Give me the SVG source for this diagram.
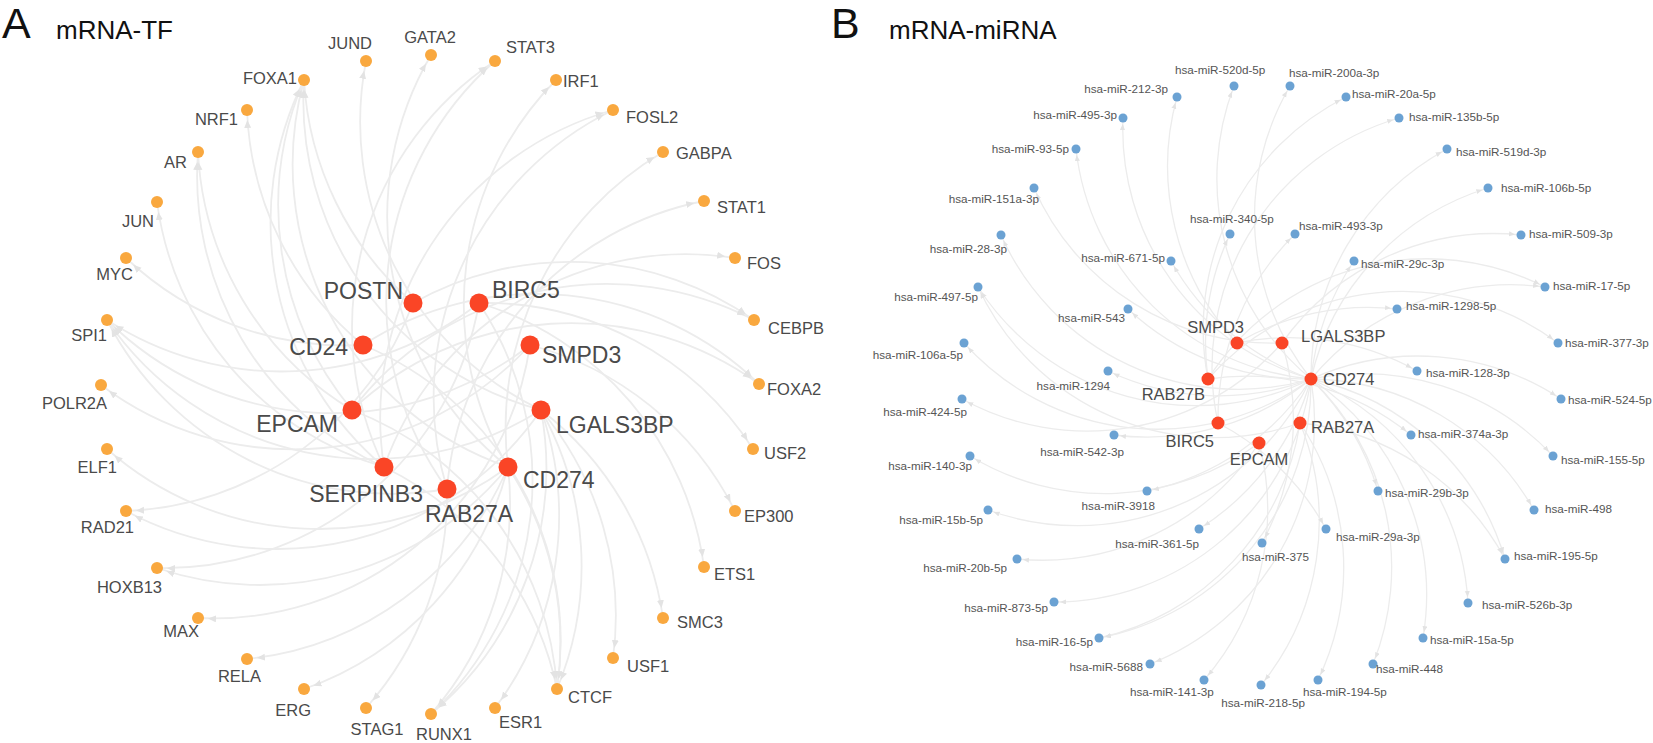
<svg xmlns="http://www.w3.org/2000/svg" width="1653" height="743" viewBox="0 0 1653 743">
<style>
text{font-family:"Liberation Sans",Arial,sans-serif}
.ttl{font-size:43px;fill:#111}
.sub{font-size:26px;fill:#111}
.tf{fill:#F9A83F}
.mr{fill:#FA4526}
.mi{fill:#6BA2D3}
.tl{font-size:16.5px;fill:#4a4a4a}
.ml{font-size:23px;fill:#4a4a4a}
.mb{font-size:16.5px;fill:#4a4a4a}
.il{font-size:11.7px;fill:#555}
.ea{fill:none;stroke:#ececec;stroke-width:1.8;marker-end:url(#ah)}
.eb{fill:none;stroke:#ececec;stroke-width:1.3;marker-end:url(#ahb)}
</style>
<defs>
<marker id="ah" markerUnits="userSpaceOnUse" markerWidth="30" markerHeight="10" refX="18" refY="3.5" orient="auto"><path d="M0,0 L8,3.5 L0,7 Z" fill="#e3e3e3"/></marker>
<marker id="ahb" markerUnits="userSpaceOnUse" markerWidth="20" markerHeight="8" refX="12" refY="2.5" orient="auto"><path d="M0,0 L6,2.5 L0,5 Z" fill="#e3e3e3"/></marker>
</defs>
<rect width="1653" height="743" fill="#fff"/>
<g id="titles">
<text class="ttl" x="2" y="38">A</text>
<text class="sub" x="56" y="39">mRNA-TF</text>
<text class="ttl" x="831" y="38">B</text>
<text class="sub" x="889" y="39">mRNA-miRNA</text>
</g>
<g id="connectors-A">
<path class="ea" d="M541 410 A320 320 0 0 1 366 61"/>
<path class="ea" d="M508 467 A320 320 0 0 1 431 55"/>
<path class="ea" d="M447 489 A320 320 0 0 1 495 61"/>
<path class="ea" d="M384 467 A320 320 0 0 1 495 61"/>
<path class="ea" d="M508 467 A320 320 0 0 1 556 80"/>
<path class="ea" d="M384 467 A320 320 0 0 1 613 110"/>
<path class="ea" d="M447 489 A320 320 0 0 1 613 110"/>
<path class="ea" d="M508 467 A320 320 0 0 1 663 152"/>
<path class="ea" d="M447 489 A320 320 0 0 1 704 201"/>
<path class="ea" d="M384 467 A320 320 0 0 1 735 258"/>
<path class="ea" d="M352 410 A320 320 0 0 1 754 320"/>
<path class="ea" d="M413 303 A320 320 0 0 1 754 320"/>
<path class="ea" d="M363 345 A320 320 0 0 1 759 384"/>
<path class="ea" d="M352 410 A320 320 0 0 1 759 384"/>
<path class="ea" d="M479 303 A320 320 0 0 1 753 449"/>
<path class="ea" d="M530 345 A320 320 0 0 1 735 511"/>
<path class="ea" d="M479 303 A320 320 0 0 1 704 567"/>
<path class="ea" d="M541 410 A320 320 0 0 1 663 618"/>
<path class="ea" d="M541 410 A320 320 0 0 1 613 658"/>
<path class="ea" d="M352 410 A320 320 0 0 1 557 689"/>
<path class="ea" d="M363 345 A320 320 0 0 1 557 689"/>
<path class="ea" d="M384 467 A320 320 0 0 1 557 689"/>
<path class="ea" d="M508 467 A320 320 0 0 1 557 689"/>
<path class="ea" d="M541 410 A320 320 0 0 1 557 689"/>
<path class="ea" d="M541 410 A320 320 0 0 1 495 708"/>
<path class="ea" d="M508 467 A320 320 0 0 1 431 714"/>
<path class="ea" d="M541 410 A320 320 0 0 1 431 714"/>
<path class="ea" d="M479 303 A320 320 0 0 1 431 714"/>
<path class="ea" d="M447 489 A320 320 0 0 1 366 708"/>
<path class="ea" d="M508 467 A320 320 0 0 1 304 689"/>
<path class="ea" d="M508 467 A320 320 0 0 1 247 659"/>
<path class="ea" d="M530 345 A320 320 0 0 1 198 618"/>
<path class="ea" d="M479 303 A320 320 0 0 1 157 568"/>
<path class="ea" d="M508 467 A320 320 0 0 1 157 568"/>
<path class="ea" d="M541 410 A320 320 0 0 1 126 511"/>
<path class="ea" d="M413 303 A320 320 0 0 1 126 511"/>
<path class="ea" d="M508 467 A320 320 0 0 1 107 449"/>
<path class="ea" d="M530 345 A320 320 0 0 1 101 385"/>
<path class="ea" d="M530 345 A320 320 0 0 1 107 320"/>
<path class="ea" d="M479 303 A320 320 0 0 1 107 320"/>
<path class="ea" d="M541 410 A320 320 0 0 1 107 320"/>
<path class="ea" d="M447 489 A320 320 0 0 1 107 320"/>
<path class="ea" d="M363 345 A320 320 0 0 1 126 258"/>
<path class="ea" d="M384 467 A320 320 0 0 1 157 202"/>
<path class="ea" d="M352 410 A320 320 0 0 1 198 152"/>
<path class="ea" d="M384 467 A320 320 0 0 1 198 152"/>
<path class="ea" d="M363 345 A320 320 0 0 1 247 110"/>
<path class="ea" d="M352 410 A320 320 0 0 1 304 80"/>
<path class="ea" d="M384 467 A320 320 0 0 1 304 80"/>
<path class="ea" d="M541 410 A320 320 0 0 1 304 80"/>
<path class="ea" d="M508 467 A320 320 0 0 1 304 80"/>
<path class="ea" d="M413 303 A320 320 0 0 1 304 80"/>
</g>
<g id="connectors-B">
<path class="eb" d="M1237 343 A260 260 0 0 1 1177 97"/>
<path class="eb" d="M1311 379 A260 260 0 0 1 1234 86"/>
<path class="eb" d="M1311 379 A260 260 0 0 1 1290 86"/>
<path class="eb" d="M1208 379 A260 260 0 0 1 1346 97"/>
<path class="eb" d="M1218 423 A260 260 0 0 1 1399 118"/>
<path class="eb" d="M1311 379 A260 260 0 0 1 1447 149"/>
<path class="eb" d="M1311 379 A260 260 0 0 1 1488 188"/>
<path class="eb" d="M1282 343 A260 260 0 0 1 1521 235"/>
<path class="eb" d="M1311 379 A260 260 0 0 1 1545 287"/>
<path class="eb" d="M1208 379 A260 260 0 0 1 1545 287"/>
<path class="eb" d="M1208 379 A260 260 0 0 1 1558 343"/>
<path class="eb" d="M1311 379 A260 260 0 0 1 1561 399"/>
<path class="eb" d="M1311 379 A260 260 0 0 1 1553 456"/>
<path class="eb" d="M1311 379 A260 260 0 0 1 1534 510"/>
<path class="eb" d="M1311 379 A260 260 0 0 1 1505 559"/>
<path class="eb" d="M1300 423 A260 260 0 0 1 1505 559"/>
<path class="eb" d="M1311 379 A260 260 0 0 1 1468 603"/>
<path class="eb" d="M1311 379 A260 260 0 0 1 1423 638"/>
<path class="eb" d="M1311 379 A260 260 0 0 1 1373 664"/>
<path class="eb" d="M1300 423 A260 260 0 0 1 1318 680"/>
<path class="eb" d="M1300 423 A260 260 0 0 1 1261 685"/>
<path class="eb" d="M1259 443 A260 260 0 0 1 1204 680"/>
<path class="eb" d="M1311 379 A260 260 0 0 1 1150 664"/>
<path class="eb" d="M1311 379 A260 260 0 0 1 1099 638"/>
<path class="eb" d="M1300 423 A260 260 0 0 1 1099 638"/>
<path class="eb" d="M1311 379 A260 260 0 0 1 1054 602"/>
<path class="eb" d="M1259 443 A260 260 0 0 1 1017 559"/>
<path class="eb" d="M1311 379 A260 260 0 0 1 988 510"/>
<path class="eb" d="M1259 443 A260 260 0 0 1 970 456"/>
<path class="eb" d="M1282 343 A260 260 0 0 1 962 399"/>
<path class="eb" d="M1311 379 A260 260 0 0 1 964 343"/>
<path class="eb" d="M1311 379 A260 260 0 0 1 978 287"/>
<path class="eb" d="M1300 423 A260 260 0 0 1 978 287"/>
<path class="eb" d="M1311 379 A260 260 0 0 1 1001 235"/>
<path class="eb" d="M1282 343 A260 260 0 0 1 1034 188"/>
<path class="eb" d="M1311 379 A260 260 0 0 1 1076 149"/>
<path class="eb" d="M1311 379 A260 260 0 0 1 1123 118"/>
<path class="eb" d="M1311 379 A260 260 0 0 1 1171 261"/>
<path class="eb" d="M1208 379 A260 260 0 0 1 1230 234"/>
<path class="eb" d="M1218 423 A260 260 0 0 1 1295 234"/>
<path class="eb" d="M1311 379 A260 260 0 0 1 1354 261"/>
<path class="eb" d="M1237 343 A260 260 0 0 1 1397 309"/>
<path class="eb" d="M1237 343 A260 260 0 0 1 1417 371"/>
<path class="eb" d="M1208 379 A260 260 0 0 1 1411 435"/>
<path class="eb" d="M1311 379 A260 260 0 0 1 1378 491"/>
<path class="eb" d="M1218 423 A260 260 0 0 1 1326 529"/>
<path class="eb" d="M1282 343 A260 260 0 0 1 1262 543"/>
<path class="eb" d="M1311 379 A260 260 0 0 1 1199 529"/>
<path class="eb" d="M1311 379 A260 260 0 0 1 1147 491"/>
<path class="eb" d="M1311 379 A260 260 0 0 1 1114 435"/>
<path class="eb" d="M1311 379 A260 260 0 0 1 1108 371"/>
<path class="eb" d="M1311 379 A260 260 0 0 1 1128 309"/>
</g>
<g id="nodes-A-tf">
<g id="JUND"><circle class="tf" cx="366" cy="61" r="6"/><text class="tl" x="350" y="49" text-anchor="middle">JUND</text></g>
<g id="GATA2"><circle class="tf" cx="431" cy="55" r="6"/><text class="tl" x="430" y="43" text-anchor="middle">GATA2</text></g>
<g id="STAT3"><circle class="tf" cx="495" cy="61" r="6"/><text class="tl" x="506" y="53">STAT3</text></g>
<g id="IRF1"><circle class="tf" cx="556" cy="80" r="6"/><text class="tl" x="563" y="87">IRF1</text></g>
<g id="FOSL2"><circle class="tf" cx="613" cy="110" r="6"/><text class="tl" x="626" y="123">FOSL2</text></g>
<g id="GABPA"><circle class="tf" cx="663" cy="152" r="6"/><text class="tl" x="676" y="159">GABPA</text></g>
<g id="STAT1"><circle class="tf" cx="704" cy="201" r="6"/><text class="tl" x="717" y="213">STAT1</text></g>
<g id="FOS"><circle class="tf" cx="735" cy="258" r="6"/><text class="tl" x="747" y="269">FOS</text></g>
<g id="CEBPB"><circle class="tf" cx="754" cy="320" r="6"/><text class="tl" x="768" y="334">CEBPB</text></g>
<g id="FOXA2"><circle class="tf" cx="759" cy="384" r="6"/><text class="tl" x="767" y="395">FOXA2</text></g>
<g id="USF2"><circle class="tf" cx="753" cy="449" r="6"/><text class="tl" x="764" y="459">USF2</text></g>
<g id="EP300"><circle class="tf" cx="735" cy="511" r="6"/><text class="tl" x="744" y="522">EP300</text></g>
<g id="ETS1"><circle class="tf" cx="704" cy="567" r="6"/><text class="tl" x="714" y="580">ETS1</text></g>
<g id="SMC3"><circle class="tf" cx="663" cy="618" r="6"/><text class="tl" x="677" y="628">SMC3</text></g>
<g id="USF1"><circle class="tf" cx="613" cy="658" r="6"/><text class="tl" x="627" y="672">USF1</text></g>
<g id="CTCF"><circle class="tf" cx="557" cy="689" r="6"/><text class="tl" x="568" y="703">CTCF</text></g>
<g id="ESR1"><circle class="tf" cx="495" cy="708" r="6"/><text class="tl" x="499" y="728">ESR1</text></g>
<g id="RUNX1"><circle class="tf" cx="431" cy="714" r="6"/><text class="tl" x="444" y="740" text-anchor="middle">RUNX1</text></g>
<g id="STAG1"><circle class="tf" cx="366" cy="708" r="6"/><text class="tl" x="377" y="735" text-anchor="middle">STAG1</text></g>
<g id="ERG"><circle class="tf" cx="304" cy="689" r="6"/><text class="tl" x="311" y="716" text-anchor="end">ERG</text></g>
<g id="RELA"><circle class="tf" cx="247" cy="659" r="6"/><text class="tl" x="261" y="682" text-anchor="end">RELA</text></g>
<g id="MAX"><circle class="tf" cx="198" cy="618" r="6"/><text class="tl" x="199" y="637" text-anchor="end">MAX</text></g>
<g id="HOXB13"><circle class="tf" cx="157" cy="568" r="6"/><text class="tl" x="162" y="593" text-anchor="end">HOXB13</text></g>
<g id="RAD21"><circle class="tf" cx="126" cy="511" r="6"/><text class="tl" x="134" y="533" text-anchor="end">RAD21</text></g>
<g id="ELF1"><circle class="tf" cx="107" cy="449" r="6"/><text class="tl" x="117" y="473" text-anchor="end">ELF1</text></g>
<g id="POLR2A"><circle class="tf" cx="101" cy="385" r="6"/><text class="tl" x="107" y="409" text-anchor="end">POLR2A</text></g>
<g id="SPI1"><circle class="tf" cx="107" cy="320" r="6"/><text class="tl" x="107" y="341" text-anchor="end">SPI1</text></g>
<g id="MYC"><circle class="tf" cx="126" cy="258" r="6"/><text class="tl" x="133" y="280" text-anchor="end">MYC</text></g>
<g id="JUN"><circle class="tf" cx="157" cy="202" r="6"/><text class="tl" x="154" y="227" text-anchor="end">JUN</text></g>
<g id="AR"><circle class="tf" cx="198" cy="152" r="6"/><text class="tl" x="187" y="168" text-anchor="end">AR</text></g>
<g id="NRF1"><circle class="tf" cx="247" cy="110" r="6"/><text class="tl" x="238" y="125" text-anchor="end">NRF1</text></g>
<g id="FOXA1"><circle class="tf" cx="304" cy="80" r="6"/><text class="tl" x="297" y="84" text-anchor="end">FOXA1</text></g>
</g>
<g id="nodes-A-mrna">
<g id="A-POSTN"><circle class="mr" cx="413" cy="303" r="9.5"/><text class="ml" x="403" y="299" text-anchor="end">POSTN</text></g>
<g id="A-BIRC5"><circle class="mr" cx="479" cy="303" r="9.5"/><text class="ml" x="492" y="298">BIRC5</text></g>
<g id="A-CD24"><circle class="mr" cx="363" cy="345" r="9.5"/><text class="ml" x="348" y="355" text-anchor="end">CD24</text></g>
<g id="A-SMPD3"><circle class="mr" cx="530" cy="345" r="9.5"/><text class="ml" x="542" y="363">SMPD3</text></g>
<g id="A-EPCAM"><circle class="mr" cx="352" cy="410" r="9.5"/><text class="ml" x="338" y="432" text-anchor="end">EPCAM</text></g>
<g id="A-LGALS3BP"><circle class="mr" cx="541" cy="410" r="9.5"/><text class="ml" x="556" y="433">LGALS3BP</text></g>
<g id="A-SERPINB3"><circle class="mr" cx="384" cy="467" r="9.5"/><text class="ml" x="423" y="502" text-anchor="end">SERPINB3</text></g>
<g id="A-CD274"><circle class="mr" cx="508" cy="467" r="9.5"/><text class="ml" x="523" y="488">CD274</text></g>
<g id="A-RAB27A"><circle class="mr" cx="447" cy="489" r="9.5"/><text class="ml" x="425" y="522">RAB27A</text></g>
</g>
<g id="nodes-B-mirna">
<g id="miR-212-3p"><circle class="mi" cx="1177" cy="97" r="4.5"/><text class="il" x="1168" y="93" text-anchor="end">hsa-miR-212-3p</text></g>
<g id="miR-520d-5p"><circle class="mi" cx="1234" cy="86" r="4.5"/><text class="il" x="1175" y="74">hsa-miR-520d-5p</text></g>
<g id="miR-200a-3p"><circle class="mi" cx="1290" cy="86" r="4.5"/><text class="il" x="1289" y="77">hsa-miR-200a-3p</text></g>
<g id="miR-20a-5p"><circle class="mi" cx="1346" cy="97" r="4.5"/><text class="il" x="1352" y="98">hsa-miR-20a-5p</text></g>
<g id="miR-135b-5p"><circle class="mi" cx="1399" cy="118" r="4.5"/><text class="il" x="1409" y="121">hsa-miR-135b-5p</text></g>
<g id="miR-519d-3p"><circle class="mi" cx="1447" cy="149" r="4.5"/><text class="il" x="1456" y="156">hsa-miR-519d-3p</text></g>
<g id="miR-106b-5p"><circle class="mi" cx="1488" cy="188" r="4.5"/><text class="il" x="1501" y="192">hsa-miR-106b-5p</text></g>
<g id="miR-509-3p"><circle class="mi" cx="1521" cy="235" r="4.5"/><text class="il" x="1529" y="238">hsa-miR-509-3p</text></g>
<g id="miR-17-5p"><circle class="mi" cx="1545" cy="287" r="4.5"/><text class="il" x="1553" y="290">hsa-miR-17-5p</text></g>
<g id="miR-377-3p"><circle class="mi" cx="1558" cy="343" r="4.5"/><text class="il" x="1565" y="347">hsa-miR-377-3p</text></g>
<g id="miR-524-5p"><circle class="mi" cx="1561" cy="399" r="4.5"/><text class="il" x="1568" y="404">hsa-miR-524-5p</text></g>
<g id="miR-155-5p"><circle class="mi" cx="1553" cy="456" r="4.5"/><text class="il" x="1561" y="464">hsa-miR-155-5p</text></g>
<g id="miR-498"><circle class="mi" cx="1534" cy="510" r="4.5"/><text class="il" x="1545" y="513">hsa-miR-498</text></g>
<g id="miR-195-5p"><circle class="mi" cx="1505" cy="559" r="4.5"/><text class="il" x="1514" y="560">hsa-miR-195-5p</text></g>
<g id="miR-526b-3p"><circle class="mi" cx="1468" cy="603" r="4.5"/><text class="il" x="1482" y="609">hsa-miR-526b-3p</text></g>
<g id="miR-15a-5p"><circle class="mi" cx="1423" cy="638" r="4.5"/><text class="il" x="1430" y="644">hsa-miR-15a-5p</text></g>
<g id="miR-448"><circle class="mi" cx="1373" cy="664" r="4.5"/><text class="il" x="1376" y="673">hsa-miR-448</text></g>
<g id="miR-194-5p"><circle class="mi" cx="1318" cy="680" r="4.5"/><text class="il" x="1303" y="696">hsa-miR-194-5p</text></g>
<g id="miR-218-5p"><circle class="mi" cx="1261" cy="685" r="4.5"/><text class="il" x="1305" y="707" text-anchor="end">hsa-miR-218-5p</text></g>
<g id="miR-141-3p"><circle class="mi" cx="1204" cy="680" r="4.5"/><text class="il" x="1130" y="696">hsa-miR-141-3p</text></g>
<g id="miR-5688"><circle class="mi" cx="1150" cy="664" r="4.5"/><text class="il" x="1143" y="671" text-anchor="end">hsa-miR-5688</text></g>
<g id="miR-16-5p"><circle class="mi" cx="1099" cy="638" r="4.5"/><text class="il" x="1093" y="646" text-anchor="end">hsa-miR-16-5p</text></g>
<g id="miR-873-5p"><circle class="mi" cx="1054" cy="602" r="4.5"/><text class="il" x="1048" y="612" text-anchor="end">hsa-miR-873-5p</text></g>
<g id="miR-20b-5p"><circle class="mi" cx="1017" cy="559" r="4.5"/><text class="il" x="1007" y="572" text-anchor="end">hsa-miR-20b-5p</text></g>
<g id="miR-15b-5p"><circle class="mi" cx="988" cy="510" r="4.5"/><text class="il" x="983" y="524" text-anchor="end">hsa-miR-15b-5p</text></g>
<g id="miR-140-3p"><circle class="mi" cx="970" cy="456" r="4.5"/><text class="il" x="972" y="470" text-anchor="end">hsa-miR-140-3p</text></g>
<g id="miR-424-5p"><circle class="mi" cx="962" cy="399" r="4.5"/><text class="il" x="967" y="416" text-anchor="end">hsa-miR-424-5p</text></g>
<g id="miR-106a-5p"><circle class="mi" cx="964" cy="343" r="4.5"/><text class="il" x="963" y="359" text-anchor="end">hsa-miR-106a-5p</text></g>
<g id="miR-497-5p"><circle class="mi" cx="978" cy="287" r="4.5"/><text class="il" x="978" y="301" text-anchor="end">hsa-miR-497-5p</text></g>
<g id="miR-28-3p"><circle class="mi" cx="1001" cy="235" r="4.5"/><text class="il" x="1007" y="253" text-anchor="end">hsa-miR-28-3p</text></g>
<g id="miR-151a-3p"><circle class="mi" cx="1034" cy="188" r="4.5"/><text class="il" x="1039" y="203" text-anchor="end">hsa-miR-151a-3p</text></g>
<g id="miR-93-5p"><circle class="mi" cx="1076" cy="149" r="4.5"/><text class="il" x="1069" y="153" text-anchor="end">hsa-miR-93-5p</text></g>
<g id="miR-495-3p"><circle class="mi" cx="1123" cy="118" r="4.5"/><text class="il" x="1117" y="119" text-anchor="end">hsa-miR-495-3p</text></g>
<g id="miR-671-5p"><circle class="mi" cx="1171" cy="261" r="4.5"/><text class="il" x="1165" y="262" text-anchor="end">hsa-miR-671-5p</text></g>
<g id="miR-340-5p"><circle class="mi" cx="1230" cy="234" r="4.5"/><text class="il" x="1190" y="223">hsa-miR-340-5p</text></g>
<g id="miR-493-3p"><circle class="mi" cx="1295" cy="234" r="4.5"/><text class="il" x="1299" y="230">hsa-miR-493-3p</text></g>
<g id="miR-29c-3p"><circle class="mi" cx="1354" cy="261" r="4.5"/><text class="il" x="1361" y="268">hsa-miR-29c-3p</text></g>
<g id="miR-1298-5p"><circle class="mi" cx="1397" cy="309" r="4.5"/><text class="il" x="1406" y="310">hsa-miR-1298-5p</text></g>
<g id="miR-128-3p"><circle class="mi" cx="1417" cy="371" r="4.5"/><text class="il" x="1426" y="377">hsa-miR-128-3p</text></g>
<g id="miR-374a-3p"><circle class="mi" cx="1411" cy="435" r="4.5"/><text class="il" x="1418" y="438">hsa-miR-374a-3p</text></g>
<g id="miR-29b-3p"><circle class="mi" cx="1378" cy="491" r="4.5"/><text class="il" x="1385" y="497">hsa-miR-29b-3p</text></g>
<g id="miR-29a-3p"><circle class="mi" cx="1326" cy="529" r="4.5"/><text class="il" x="1336" y="541">hsa-miR-29a-3p</text></g>
<g id="miR-375"><circle class="mi" cx="1262" cy="543" r="4.5"/><text class="il" x="1242" y="561">hsa-miR-375</text></g>
<g id="miR-361-5p"><circle class="mi" cx="1199" cy="529" r="4.5"/><text class="il" x="1199" y="548" text-anchor="end">hsa-miR-361-5p</text></g>
<g id="miR-3918"><circle class="mi" cx="1147" cy="491" r="4.5"/><text class="il" x="1155" y="510" text-anchor="end">hsa-miR-3918</text></g>
<g id="miR-542-3p"><circle class="mi" cx="1114" cy="435" r="4.5"/><text class="il" x="1124" y="456" text-anchor="end">hsa-miR-542-3p</text></g>
<g id="miR-1294"><circle class="mi" cx="1108" cy="371" r="4.5"/><text class="il" x="1110" y="390" text-anchor="end">hsa-miR-1294</text></g>
<g id="miR-543"><circle class="mi" cx="1128" cy="309" r="4.5"/><text class="il" x="1125" y="322" text-anchor="end">hsa-miR-543</text></g>
</g>
<g id="nodes-B-mrna">
<g id="B-SMPD3"><circle class="mr" cx="1237" cy="343" r="6.5"/><text class="mb" x="1244" y="333" text-anchor="end">SMPD3</text></g>
<g id="B-LGALS3BP"><circle class="mr" cx="1282" cy="343" r="6.5"/><text class="mb" x="1301" y="342">LGALS3BP</text></g>
<g id="B-RAB27B"><circle class="mr" cx="1208" cy="379" r="6.5"/><text class="mb" x="1205" y="400" text-anchor="end">RAB27B</text></g>
<g id="B-CD274"><circle class="mr" cx="1311" cy="379" r="6.5"/><text class="mb" x="1323" y="385">CD274</text></g>
<g id="B-BIRC5"><circle class="mr" cx="1218" cy="423" r="6.5"/><text class="mb" x="1214" y="447" text-anchor="end">BIRC5</text></g>
<g id="B-RAB27A"><circle class="mr" cx="1300" cy="423" r="6.5"/><text class="mb" x="1311" y="433">RAB27A</text></g>
<g id="B-EPCAM"><circle class="mr" cx="1259" cy="443" r="6.5"/><text class="mb" x="1259" y="465" text-anchor="middle">EPCAM</text></g>
</g>
</svg>
